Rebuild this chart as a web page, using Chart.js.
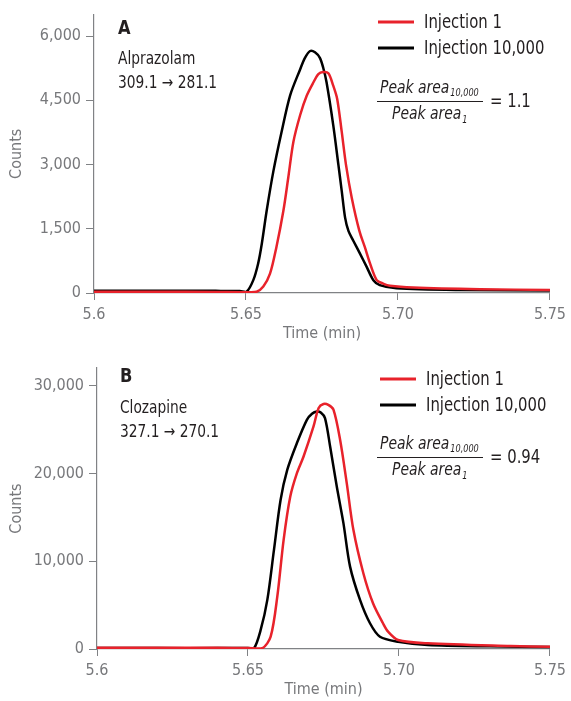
<!DOCTYPE html>
<html>
<head>
<meta charset="utf-8">
<script src="https://cdn.jsdelivr.net/npm/chart.js@4.4.1/dist/chart.umd.min.js"></script>
<style>
  html, body { margin: 0; padding: 0; background: #fff; }
  .panel { position: absolute; left: 0; width: 571px; }
</style>
</head>
<body>
<div class="panel" style="top:0;height:350px"><canvas id="chartA"></canvas></div>
<div class="panel" style="top:350px;height:351px"><canvas id="chartB"></canvas></div>
<script>
// x ticks shared by both panels
const xTickValues = [5.6, 5.65, 5.70, 5.75];
const xTickLabels = ['5.6', '5.65', '5.70', '5.75'];

// Panel A - Alprazolam
const timeA1 = [5.600, 5.620, 5.640, 5.650, 5.6535, 5.6557, 5.6579, 5.660, 5.6623, 5.6639, 5.6656, 5.6678, 5.670, 5.6722, 5.6738, 5.6754, 5.6771, 5.6787, 5.680, 5.6815, 5.6829, 5.6848, 5.6873, 5.6891, 5.6908, 5.693, 5.6951, 5.6974, 5.705, 5.727, 5.750];
const countsA1 = [30, 30, 25, 20, 30, 150, 450, 1070, 1920, 2690, 3530, 4150, 4610, 4920, 5110, 5160, 5130, 4840, 4530, 3760, 2990, 2220, 1450, 1070, 690, 300, 220, 170, 130, 90, 70];
const timeA10k = [5.600, 5.620, 5.640, 5.648, 5.6502, 5.6524, 5.654, 5.6552, 5.6568, 5.659, 5.6617, 5.6645, 5.6678, 5.6694, 5.6711, 5.6727, 5.6743, 5.6754, 5.6765, 5.6787, 5.6804, 5.6815, 5.6826, 5.6837, 5.6853, 5.6875, 5.6897, 5.6919, 5.694, 5.6995, 5.720, 5.750];
const countsA10k = [50, 55, 50, 45, 30, 300, 690, 1150, 1920, 2840, 3760, 4610, 5220, 5490, 5650, 5620, 5490, 5260, 4920, 3920, 2990, 2380, 1760, 1450, 1220, 920, 610, 300, 185, 110, 70, 60];
const yTicksA = [0, 1500, 3000, 4500, 6000];

// Panel B - Clozapine
const timeB1 = [5.600, 5.620, 5.640, 5.650, 5.6547, 5.6575, 5.6597, 5.6618, 5.664, 5.6662, 5.6684, 5.6717, 5.6734, 5.675, 5.6766, 5.6783, 5.6805, 5.6827, 5.6849, 5.6882, 5.6914, 5.6947, 5.6964, 5.6997, 5.7095, 5.737, 5.750];
const countsB1 = [150, 150, 130, 120, 80, 1400, 5960, 12430, 17360, 20030, 21920, 25340, 27440, 27900, 27800, 27250, 23830, 18890, 13570, 8630, 5210, 2930, 1970, 1030, 650, 340, 250];
const timeB10k = [5.600, 5.620, 5.640, 5.650, 5.652, 5.6542, 5.6564, 5.6586, 5.6608, 5.663, 5.6662, 5.6695, 5.6712, 5.6728, 5.6741, 5.6755, 5.6772, 5.6794, 5.6816, 5.6838, 5.6871, 5.6904, 5.6937, 5.6997, 5.7095, 5.730, 5.750];
const countsB10k = [100, 100, 100, 120, 80, 2170, 5590, 11290, 17000, 20400, 23450, 26100, 26790, 27050, 26940, 26300, 23060, 18500, 14330, 9380, 5590, 2930, 1400, 830, 460, 300, 230];
const yTicksB = [0, 10000, 20000, 30000];

const seriesNames = ['Injection 1', 'Injection 10,000'];
const seriesColors = ['#e8222b', '#000000'];

const NARROW = "'DejaVu Sans Condensed', 'Liberation Sans Narrow', sans-serif";
const GRAY = '#77787b';
const INK = '#231f20';

function pairs(xs, ys) {
  return xs.map((x, i) => ({ x: x, y: ys[i] }));
}

// text squeezed horizontally, returns drawn width
function narrowText(c, str, x, y, font, sx) {
  c.save();
  c.font = font;
  c.translate(x, y);
  c.scale(sx, 1);
  c.fillText(str, 0, 0);
  const w = c.measureText(str).width * sx;
  c.restore();
  return w;
}

// draws panel letter, compound, legend and peak area ratio
const notesPlugin = {
  id: 'notes',
  afterDraw(chart, args, opts) {
    const c = chart.ctx;
    c.save();
    c.textBaseline = 'middle';
    c.fillStyle = INK;
    narrowText(c, opts.letter, opts.tx, opts.letterY, 'bold 19px ' + NARROW, 0.95);
    narrowText(c, opts.compound, opts.tx, opts.compY, '17px ' + NARROW, 0.9);
    narrowText(c, opts.transition, opts.tx, opts.compY + 24, '17px ' + NARROW, 0.9);

    // legend
    seriesNames.forEach((name, i) => {
      const y = opts.legY + i * 26;
      c.strokeStyle = seriesColors[i];
      c.lineWidth = 3;
      c.beginPath();
      c.moveTo(opts.legX, y);
      c.lineTo(opts.legX + 36, y);
      c.stroke();
      c.fillStyle = INK;
      narrowText(c, name, opts.legX + 46, y + 1, '19px ' + NARROW, 0.87);
    });

    // fraction
    const fy = opts.fracY;
    c.strokeStyle = INK;
    c.lineWidth = 1;
    c.beginPath();
    c.moveTo(377, fy + 0.5);
    c.lineTo(483, fy + 0.5);
    c.stroke();
    c.textBaseline = 'alphabetic';
    let w = narrowText(c, 'Peak area', 380, fy - 8, 'italic 18px ' + NARROW, 0.86);
    narrowText(c, '10,000', 380 + w + 1, fy - 5, 'italic 11px ' + NARROW, 0.82);
    w = narrowText(c, 'Peak area', 392, fy + 18, 'italic 18px ' + NARROW, 0.86);
    narrowText(c, '1', 392 + w + 1, fy + 22, 'italic 11px ' + NARROW, 0.82);
    c.textBaseline = 'middle';
    narrowText(c, '= ' + opts.ratio, 490, fy + 1, '19px ' + NARROW, 0.87);
    c.restore();
  }
};

function makeChart(id, d1, d10k, yMax, yTicks, yWidth, padTop, padBottom, notes) {
  return new Chart(document.getElementById(id), {
    type: 'line',
    data: {
      datasets: [
        { label: seriesNames[0], data: d1, borderColor: seriesColors[0], borderWidth: 2.5, pointRadius: 0, tension: 0.3, fill: false },
        { label: seriesNames[1], data: d10k, borderColor: seriesColors[1], borderWidth: 2.5, pointRadius: 0, tension: 0.3, fill: false }
      ]
    },
    options: {
      responsive: true,
      maintainAspectRatio: false,
      animation: false,
      layout: { padding: { left: 0, right: 18, top: padTop, bottom: padBottom } },
      plugins: { legend: { display: false }, tooltip: { enabled: false }, notes: notes },
      scales: {
        x: {
          type: 'linear',
          min: 5.6,
          max: 5.75,
          afterBuildTicks: s => { s.ticks = xTickValues.map(v => ({ value: v })); },
          afterFit: s => { s.height = 50; },
          ticks: {
            color: GRAY,
            font: { family: NARROW, size: 16 },
            padding: 5,
            maxRotation: 0,
            callback: (v, i) => xTickLabels[i]
          },
          grid: { display: true, drawOnChartArea: false, drawTicks: true, tickLength: 7, color: '#808285', lineWidth: 1 },
          border: { color: '#808285', width: 1.2 },
          title: { display: true, text: 'Time (min)', color: GRAY, font: { family: NARROW, size: 16 }, padding: 0 }
        },
        y: {
          min: 0,
          max: yMax,
          afterBuildTicks: s => { s.ticks = yTicks.map(v => ({ value: v })); },
          afterFit: s => { s.width = yWidth; },
          ticks: {
            color: GRAY,
            font: { family: NARROW, size: 16 },
            padding: 5,
            callback: v => v.toLocaleString('en-US')
          },
          grid: { display: true, drawOnChartArea: false, drawTicks: true, tickLength: 8, color: '#808285', lineWidth: 1 },
          border: { color: '#808285', width: 1.2 },
          title: { display: true, text: 'Counts', color: GRAY, font: { family: NARROW, size: 16 }, padding: { top: 7, bottom: 0 } }
        }
      }
    },
    plugins: [notesPlugin]
  });
}

makeChart('chartA', pairs(timeA1, countsA1), pairs(timeA10k, countsA10k), 6500, yTicksA, 94, 12, 7, {
  letter: 'A', tx: 118, letterY: 29, compound: 'Alprazolam', compY: 60, transition: '309.1 \u2192 281.1',
  legX: 378, legY: 22, fracY: 101, ratio: '1.1'
});

makeChart('chartB', pairs(timeB1, countsB1), pairs(timeB10k, countsB10k), 32000, yTicksB, 97, 18, 2, {
  letter: 'B', tx: 120, letterY: 27, compound: 'Clozapine', compY: 59, transition: '327.1 \u2192 270.1',
  legX: 380, legY: 29, fracY: 107, ratio: '0.94'
});
</script>
</body>
</html>
